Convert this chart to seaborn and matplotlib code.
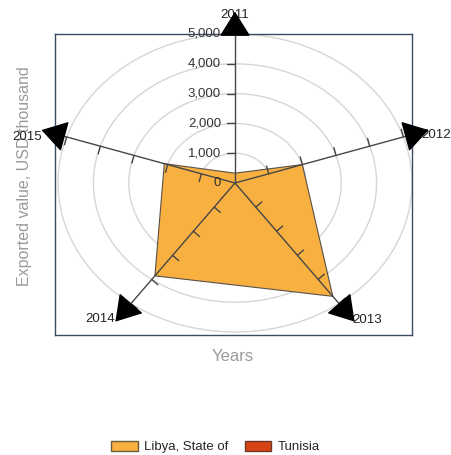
import numpy as np
import matplotlib
matplotlib.use("Agg")
import matplotlib.pyplot as plt
from matplotlib.patches import Patch
import seaborn as sns

# data
years = ["2011", "2012", "2013", "2014", "2015"]
libya = [330, 2000, 4700, 3850, 2100]
tunisia = [0, 0, 0, 0, 0]
ticks = [0, 1000, 2000, 3000, 4000, 5000]
tick_labels = ["0", "1,000", "2,000", "3,000", "4,000", "5,000"]

sns.set_theme(style="white")
plt.rcParams["font.family"] = ["Liberation Sans", "DejaVu Sans"]

W, H = 452, 455
fig = plt.figure(figsize=(W / 100, H / 100), dpi=100)
ax_box = [55, 120, 357, 301]  # left, bottom, width, height in px
ax = fig.add_axes([ax_box[0] / W, ax_box[1] / H, ax_box[2] / W, ax_box[3] / H])
xlim = (-5085, 5000)
ylim = (-5100, 5000)
ax.set_xlim(*xlim)
ax.set_ylim(*ylim)
ax.set_xticks([])
ax.set_yticks([])
for s in ax.spines.values():
    s.set_color("#3b4b63")
    s.set_linewidth(1.0)

# pixels per data unit (the radar is stretched horizontally like the original)
sx = ax_box[2] / (xlim[1] - xlim[0])
sy = ax_box[3] / (ylim[1] - ylim[0])

angles = np.deg2rad(90 - 72 * np.arange(len(years)))


def to_xy(vals):
    v = np.asarray(vals, dtype=float)
    return v * np.cos(angles), v * np.sin(angles)


# grid ellipses
t = np.linspace(0, 2 * np.pi, 400)
for r in ticks[1:]:
    ax.plot(r * np.cos(t), r * np.sin(t), color="#d6d6d6", lw=1, zorder=1)

# series polygons
x, y = to_xy(libya)
ax.fill(x, y, facecolor="#f8b040", edgecolor="#5a5048", lw=0.8, zorder=2)
x, y = to_xy(tunisia)
ax.fill(x, y, facecolor="#d84315", edgecolor="#5a5048", lw=0.8, zorder=2)

# radial axes with arrows, ticks and labels
axis_len = 5750
label_off = [(0, -3), (8, -5), (12, 2), (-15, 3), (-14, -7)]  # px
tick_px = 8
for i, a in enumerate(angles):
    d = np.array([np.cos(a), np.sin(a)])
    dp = np.array([d[0] * sx, d[1] * sy])
    dp /= np.hypot(*dp)
    nrm = np.array([-dp[1] / sx, dp[0] / sy]) * tick_px
    end = d * axis_len
    ax.plot([0, end[0] * 0.95], [0, end[1] * 0.95], color="#474747", lw=1.0,
            zorder=3, clip_on=False)
    for r in ticks[1:]:
        p = d * r
        q = p + nrm
        ax.plot([p[0], q[0]], [p[1], q[1]], color="#444444", lw=1.0, zorder=3,
                clip_on=False)
    ax.annotate(years[i], xy=end, xytext=label_off[i], textcoords="offset pixels",
                ha="center", va="center", fontsize=9.5, color="#222222",
                zorder=4, annotation_clip=False)
    ax.annotate("", xy=end, xytext=end * 0.9, annotation_clip=False,
                arrowprops=dict(arrowstyle="-|>,head_length=0.8,head_width=0.5",
                                mutation_scale=20, color="black", lw=1.0,
                                shrinkA=0, shrinkB=0), zorder=5)

for r, lbl in zip(ticks, tick_labels):
    ax.text(-14 / sx, r, lbl, ha="right", va="center", fontsize=9.5,
            color="#333333", zorder=5)

ax.set_xlabel("Years", fontsize=12, color="#9a9a9a")
ax.xaxis.set_label_coords((233 - 55) / 357, (335 - 349) / 301)
ax.set_ylabel("Exported value, USD thousand", fontsize=11.5, color="#9a9a9a")
ax.yaxis.set_label_coords((32 - 55) / 357, (335 - 176) / 301)

handles = [Patch(facecolor="#f8b040", edgecolor="#6b5a3a", label="Libya, State of"),
           Patch(facecolor="#d84315", edgecolor="#6b3a2a", label="Tunisia")]
fig.legend(handles=handles, loc="center", bbox_to_anchor=(0.477, 8 / H),
           ncol=2, frameon=False, fontsize=9.5, handlelength=2.0, handleheight=0.8,
           columnspacing=1.2, handletextpad=0.5)

fig.savefig("out.png", dpi=100)
